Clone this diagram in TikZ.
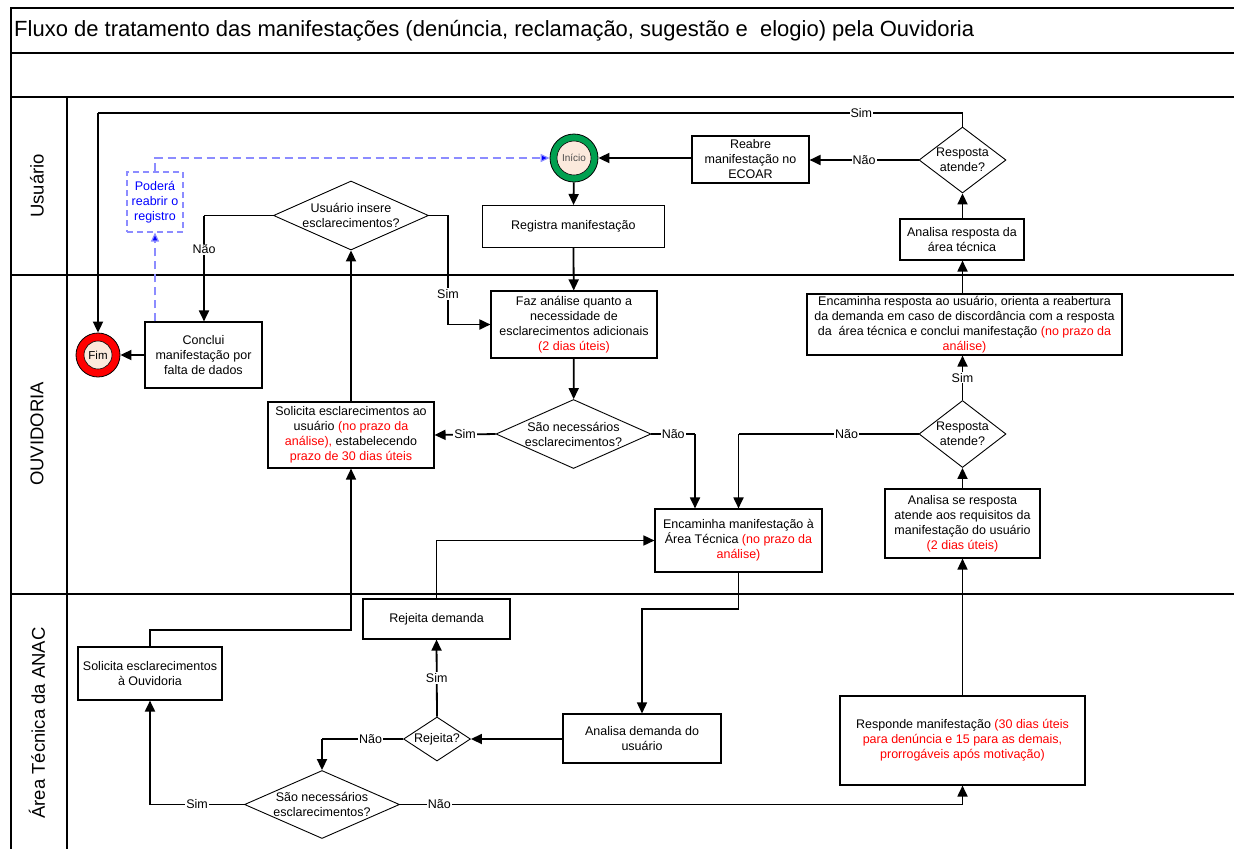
\documentclass[tikz,border=0pt]{standalone}
\usepackage{fontspec}
\setmainfont{Liberation Sans}
\usetikzlibrary{arrows.meta,shapes.geometric,calc}
\definecolor{rd}{RGB}{255,0,0}
\definecolor{grn}{RGB}{0,160,80}
\definecolor{peach}{RGB}{251,233,220}
\definecolor{lblue}{RGB}{140,140,255}
\definecolor{dblue}{RGB}{0,0,255}
\newcommand\rt[1]{\textcolor{rd}{#1}}
\tikzset{
  every node/.style={font=\fontsize{12.5}{15}\selectfont},
  box/.style={draw=black, line width=1.1pt, fill=white, align=center, inner sep=0pt},
  dia/.style={draw=black, diamond, line width=0.9pt, fill=white, inner sep=0pt},
  dtext/.style={align=center, inner sep=0pt},
  conn/.style={line width=1.8pt, -{Triangle[length=11pt,width=10pt]}},
  thinconn/.style={line width=1.5pt, -{Triangle[length=11pt,width=10pt]}},
  plainln/.style={line width=1.8pt},
  lbl/.style={fill=white, inner sep=1pt},
  frameln/.style={line width=1.4pt},
  lane/.style={rotate=90, font=\fontsize{18.5}{22}\selectfont},
  dashln/.style={draw=lblue, line width=1.2pt, dash pattern=on 8pt off 5pt, -{Triangle[length=9pt,width=8pt,fill=dblue]}}
}
\begin{document}
\begin{tikzpicture}[x=1pt,y=-1pt]
\useasboundingbox (0,0) rectangle (1234,849);
% frame
\draw[frameln] (1234,8) -- (11,8) -- (11,849);
\draw[frameln] (11,53) -- (1234,53);
\draw[frameln] (11,97) -- (1234,97);
\draw[frameln] (11,275) -- (1234,275);
\draw[frameln] (11,594) -- (1234,594);
\draw[frameln] (67,97) -- (67,849);
\node[anchor=west, font=\fontsize{22}{26}\selectfont, inner sep=0pt] (title) at (14,30.5) {Fluxo de tratamento das manifestações (denúncia, reclamação, sugestão e \ elogio) pela Ouvidoria};
\node[lane] (lu) at (37,186) {Usuário};
\node[lane] (lo) at (37,434) {OUVIDORIA};
\node[lane] (la) at (37,723) {Área Técnica da ANAC};

% start / end
\node[circle, draw, line width=0.8pt, fill=grn, minimum size=48pt, inner sep=0pt] (ini) at (574,158) {};
\node[circle, draw, line width=0.6pt, fill=peach, minimum size=34pt, inner sep=0pt, font=\fontsize{10}{12}\selectfont, text=black!70] (init) at (ini) {Início};
\node[circle, draw, line width=0.8pt, fill=rd, minimum size=44pt, inner sep=0pt] (fim) at (98,355) {};
\node[circle, draw, line width=0.6pt, fill=peach, minimum size=28pt, inner sep=0pt, font=\fontsize{11.5}{13}\selectfont] (fimt) at (fim) {Fim};

% boxes
\node[box, minimum width=117pt, minimum height=47pt] (reab) at (750.5,159.5) {Reabre\\manifestação no\\ECOAR};
\node[box, minimum width=181.5pt, minimum height=41.5pt] (reg) at (573.3,226.3) {Registra manifestação};
\node[box, minimum width=124pt, minimum height=41pt] (anr) at (962,239.5) {Analisa resposta da\\área técnica};
\node[box, minimum width=315pt, minimum height=61pt] (encr) at (964.5,324.5) {Encaminha resposta ao usuário, orienta a reabertura\\da demanda em caso de discordância com a resposta\\da \ área técnica e conclui manifestação \rt{(no prazo da}\\\rt{análise)}};
\node[box, minimum width=155pt, minimum height=69pt] (ase) at (962.5,523.5) {Analisa se resposta\\atende aos requisitos da\\manifestação do usuário\\\rt{(2 dias úteis)}};
\node[box, draw=lblue, dash pattern=on 6pt off 4pt, line width=1.1pt, minimum width=56pt, minimum height=60pt, text=dblue] (pod) at (155,202) {Poderá\\reabrir o\\registro};
\node[box, minimum width=117pt, minimum height=66pt] (conc) at (203.5,355) {Conclui\\manifestação por\\falta de dados};
\node[box, minimum width=166pt, minimum height=66pt] (solu) at (351,435) {Solicita esclarecimentos ao\\usuário \rt{(no prazo da}\\\rt{análise),} estabelecendo\\\rt{prazo de 30 dias úteis}};
\node[box, minimum width=166pt, minimum height=67pt] (faz) at (574,324.5) {Faz análise quanto a\\necessidade de\\esclarecimentos adicionais\\\rt{(2 dias úteis)}};
\node[box, minimum width=167pt, minimum height=63pt] (encm) at (738.5,540.5) {Encaminha manifestação à\\Área Técnica \rt{(no prazo da}\\\rt{análise)}};
\node[box, minimum width=147pt, minimum height=40pt] (rejd) at (436.5,619) {Rejeita demanda};
\node[box, minimum width=144pt, minimum height=53pt] (solo) at (150,673.5) {Solicita esclarecimentos\\à Ouvidoria};
\node[box, minimum width=158pt, minimum height=49pt] (anam) at (642,738.5) {Analisa demanda do\\usuário};
\node[box, minimum width=245pt, minimum height=89pt] (resp) at (962.5,740.5) {Responde manifestação \rt{(30 dias úteis}\\\rt{para denúncia e 15 para as demais,}\\\rt{prorrogáveis após motivação)}};

% diamonds
\node[dia, minimum width=87pt, minimum height=66pt] (r1) at (962.5,160) {};
\node[dtext] (r1t) at (r1) {Resposta\\atende?};
\node[dia, minimum width=155pt, minimum height=69pt] (ui) at (351,215.5) {};
\node[dtext] (uit) at (ui) {Usuário insere\\esclarecimentos?};
\node[dia, minimum width=155pt, minimum height=69pt] (son) at (573.5,434) {};
\node[dtext] (sont) at (son) {São necessários\\esclarecimentos?};
\node[dia, minimum width=87pt, minimum height=67pt] (r2) at (962.5,434) {};
\node[dtext] (r2t) at (r2) {Resposta\\atende?};
\node[dia, minimum width=67pt, minimum height=44pt] (rej) at (437,739) {};
\node[dtext] (rejt) at (rej) {Rejeita?};
\node[dia, minimum width=155pt, minimum height=68pt] (sat) at (322,804.5) {};
\node[dtext] (satt) at (sat) {São necessários\\esclarecimentos?};

% helper coordinates
\coordinate (cTop) at (962.5,113);
\coordinate (cFimX) at (98,113);
\coordinate (cNao1) at (695,434);
\coordinate (cNao2) at (738.5,434);
\coordinate (cEnc1) at (738.5,609);
\coordinate (cEnc2) at (642,609);
\coordinate (cRej1) at (322,739);
\coordinate (cSat1) at (150,804.5);
\coordinate (cSat2) at (962.5,804.5);
\coordinate (cSo1) at (150,630);
\coordinate (cSo2) at (351,630);
\coordinate (cRd1) at (436.5,540.5);
\coordinate (cUi1) at (204,215.5);
\coordinate (cUi2) at (448,215.5);
\coordinate (cUi3) at (448,324.5);

% connectors
\draw[conn] (ini) -- (reg);
\draw[conn] (reg) -- (faz);
\draw[conn] (faz) -- (son);
\draw[conn] (son.west) -- node[lbl]{Sim} (solu.east);
\draw[plainln] (son.east) -- node[lbl]{Não} (cNao1);
\draw[conn] (cNao1) -- (cNao1 |- encm.north);
\draw[plainln] (r2.west) -- node[lbl, pos=0.4]{Não} (cNao2);
\draw[conn] (cNao2) -- (encm.north);
\draw[thinconn] (encm.south) -- (cEnc1) -- (cEnc2) -- (anam.north);
\draw[conn] (anam.west |- rej.east) -- (rej.east);
\draw[conn] (rej.north) -- node[lbl]{Sim} (rejd.south);
\draw[plainln] (rej.west) -- node[lbl, pos=0.4]{Não} (cRej1);
\draw[conn] (cRej1) -- (sat.north);
\draw[plainln] (sat.west) -- node[lbl]{Sim} (cSat1);
\draw[conn] (cSat1) -- (solo.south);
\draw[plainln] (sat.east) -- node[lbl, pos=0.07]{Não} (cSat2);
\draw[conn] (cSat2) -- (resp.south);
\draw[thinconn] (solo.north) -- (cSo1) -- (cSo2) -- (solu.south);
\draw[thinconn] (rejd.north) -- (cRd1) -- (encm.west);
\draw[thinconn] (resp.north) -- (ase.south);
\draw[conn] (ase.north) -- (r2.south);
\draw[conn] (r2.north) -- node[lbl]{Sim} (r2.north |- encr.south);
\draw[conn] (r2.north |- encr.north) -- (r2.north |- anr.south);
\draw[conn] (r2.north |- anr.north) -- (r1.south);
\draw[conn] (r1.west) -- node[lbl]{Não} (reab.east |- r1.west);
\draw[plainln] (r1.north) -- (cTop) -- node[lbl, pos=0.117]{Sim} (cFimX);
\draw[conn] (cFimX) -- (fim.north);
\draw[conn] (reab.west |- ini.east) -- (ini.east);
\draw[conn] (solu.north) -- (ui.south);
\draw[plainln] (ui.west) -- (cUi1);
\draw[conn] (cUi1) -- node[lbl, pos=0.32]{Não} (conc.north -| cUi1);
\draw[plainln] (ui.east) -- (cUi2) -- node[lbl, pos=0.72]{Sim} (cUi3);
\draw[conn] (cUi3) -- (faz.west);
\draw[conn] (conc.west) -- (fim.east);
\draw[dashln] (pod.south |- conc.north) -- (pod.south);
\draw[dashln] (pod.north) |- (ini.west);
\end{tikzpicture}
\end{document}
